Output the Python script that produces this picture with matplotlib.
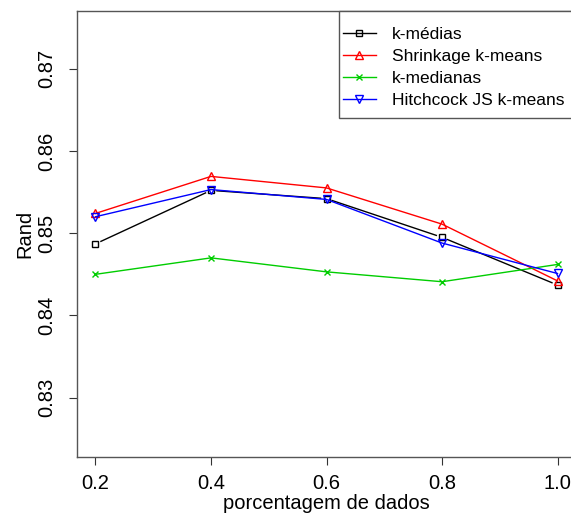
import matplotlib
matplotlib.use("Agg")
import matplotlib.pyplot as plt
from matplotlib.patches import Rectangle
import numpy as np

plt.rcParams['font.family'] = ['Liberation Sans', 'DejaVu Sans']

x = [0.2, 0.4, 0.6, 0.8, 1.0]
k_medias = [0.8487, 0.8552, 0.8542, 0.8495, 0.8437]
shrinkage = [0.8524, 0.8569, 0.8555, 0.8511, 0.8442]
k_medianas = [0.8450, 0.8470, 0.8453, 0.8441, 0.8462]
hitchcock = [0.8520, 0.8553, 0.8541, 0.8488, 0.8451]
labels = ["k-médias", "Shrinkage k-means", "k-medianas", "Hitchcock JS k-means"]
xticks = [0.2, 0.4, 0.6, 0.8, 1.0]
xticklabels = ["0.2", "0.4", "0.6", "0.8", "1.0"]
yticks = [0.83, 0.84, 0.85, 0.86, 0.87]

W, H = 571, 516
fig = plt.figure(figsize=(W/100, H/100), dpi=100)
left, right, top, bottom = 77, 576, 11, 457
ax = fig.add_axes([left/W, 1 - bottom/H, (right-left)/W, (bottom-top)/H])
ax.set_xlim(0.168, 1.032)
ax.set_ylim(0.8228, 0.877)

series = [k_medias, shrinkage, k_medianas, hitchcock]
colors = ['black', '#ff0000', '#00cd00', '#0000ff']
markers = ['s', '^', 'x', 'v']
msizes = [5, 6, 5, 6]
gapped = [True, False, False, False]

for ys, c, m, ms, gap, lab in zip(series, colors, markers, msizes, gapped, labels):
    if gap:
        # R type="b": line segments stop short of the points
        pts = ax.transData.transform(np.column_stack([x, ys]))
        inv = ax.transData.inverted()
        r = 6.0
        for p0, p1 in zip(pts[:-1], pts[1:]):
            d = p1 - p0
            L = np.hypot(*d)
            u = d / L
            a = inv.transform(p0 + u * r)
            b = inv.transform(p1 - u * r)
            ax.plot([a[0], b[0]], [a[1], b[1]], color=c, lw=1)
        ax.plot(x, ys, linestyle='none', marker=m, markersize=ms,
                markerfacecolor='none', markeredgecolor=c, markeredgewidth=1)
        ax.plot([], [], color=c, lw=1, marker=m, markersize=ms,
                markerfacecolor='none', markeredgecolor=c, markeredgewidth=1, label=lab)
    else:
        ax.plot(x, ys, color=c, lw=1, marker=m, markersize=ms,
                markerfacecolor='none', markeredgecolor=c, markeredgewidth=1, label=lab)

ax.set_xticks(xticks)
ax.set_xticklabels(xticklabels)
ax.set_yticks(yticks)
ax.set_yticklabels([f"{v:.2f}" for v in yticks], rotation=90, va='center')
ax.tick_params(axis='both', direction='out', length=6, width=0.8, labelsize=14.5,
               colors='#333333', labelcolor='black')
ax.tick_params(axis='x', pad=6)
ax.tick_params(axis='y', pad=9)
for s in ax.spines.values():
    s.set_color('#555555')
    s.set_linewidth(1)

ax.set_xlabel("porcentagem de dados", fontsize=14.5, labelpad=1)
ax.set_ylabel("Rand", fontsize=14.5, labelpad=2)

# legend box (R style: wide vertical padding, narrow horizontal)
def fig2ax(px, py):
    return ((px - left) / (right - left), (bottom - py) / (bottom - top))

bx0, by0 = fig2ax(339, 118)
box = Rectangle((bx0, by0), 1.0 - bx0, 1.0 - by0, transform=ax.transAxes,
                facecolor='white', edgecolor='#555555', lw=1, zorder=4, clip_on=False)
ax.add_patch(box)

ax_anchor = fig2ax(343, 27)
leg = ax.legend(loc='upper left', bbox_to_anchor=ax_anchor, fontsize=12.5,
                frameon=False, borderaxespad=0, handlelength=1.9,
                handletextpad=0.92, labelspacing=0.4, borderpad=0)
leg.set_zorder(5)

fig.savefig("out.png", dpi=100)
